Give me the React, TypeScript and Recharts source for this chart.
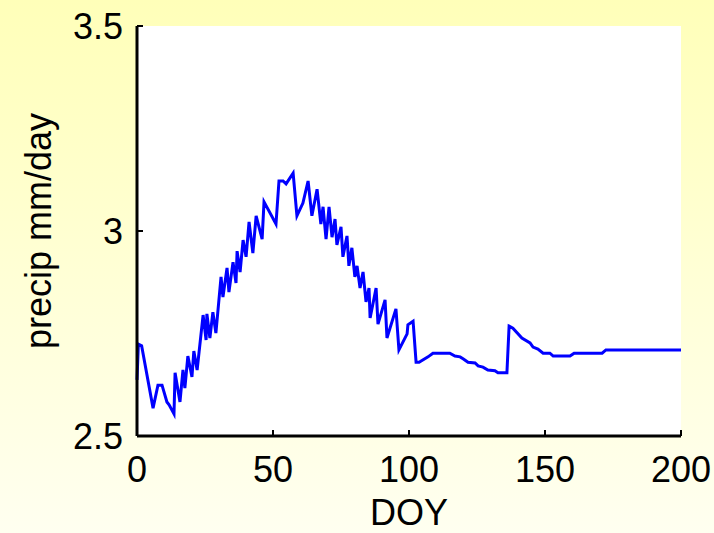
import React from 'react';
import { LineChart, Line, XAxis, YAxis, CartesianGrid } from 'recharts';

// values
const doy = [
  0, 0.5, 1.7, 5.9, 7.7, 9.2, 11, 11.8, 13.6, 14, 15.8, 16.9, 17.6, 18.7, 20.2, 20.9, 22.1,
  24.3, 25.4, 25.7, 26.8, 27.9, 29, 30.9, 31.6, 33.1, 33.8, 35.3, 36.4, 36.8, 37.9, 39, 40.1,
  41.2, 42.6, 43.8, 46, 46.7, 51.1, 52.2, 53.7, 54.8, 57.4, 58.8, 61, 62.9, 64.3, 66.2, 67.6,
  68.4, 69.5, 70.6, 71.7, 72.8, 73.5, 75, 75.7, 77.2, 77.9, 79, 80.1, 80.9, 82, 83.1, 84.2,
  85.3, 85.7, 87.9, 88.6, 91.2, 91.9, 95.2, 96.3, 99.3, 99.6, 101.5, 102.6, 103.7, 107, 108.8,
  115, 116.9, 118.8, 120, 121.7, 124.3, 125.4, 127.2, 129, 131.6, 132.7, 136, 136.8, 138.2,
  141.5, 144.5, 145.6, 147.4, 149.3, 151.8, 153, 159.2, 160.7, 171, 172.4, 200,
];
const precip = [
  2.637, 2.724, 2.72, 2.568, 2.624, 2.624, 2.583, 2.576, 2.554, 2.654, 2.583, 2.661, 2.617, 2.695, 2.644, 2.707, 2.661,
  2.795, 2.734, 2.798, 2.739, 2.802, 2.751, 2.888, 2.839, 2.91, 2.851, 2.924, 2.873, 2.951, 2.9, 2.978, 2.937,
  3.022, 2.946, 3.037, 2.98, 3.071, 3.017, 3.122, 3.122, 3.115, 3.141, 3.037, 3.068, 3.122, 3.037, 3.102, 3.017,
  3.059, 2.98, 3.059, 2.985, 3.029, 2.966, 3.01, 2.937, 2.988, 2.915, 2.959, 2.888, 2.915, 2.861, 2.9, 2.827,
  2.861, 2.788, 2.861, 2.773, 2.832, 2.739, 2.81, 2.71, 2.749, 2.771, 2.78, 2.68, 2.68, 2.693, 2.702,
  2.702, 2.695, 2.693, 2.688, 2.68, 2.678, 2.671, 2.668, 2.661, 2.659, 2.654, 2.654, 2.768, 2.763,
  2.739, 2.727, 2.717, 2.712, 2.702, 2.702, 2.695, 2.695, 2.702, 2.702, 2.71, 2.71,
];
const xTicks = [0, 50, 100, 150, 200];
const yTicks = [2.5, 3, 3.5];

const data = doy.map((d, i) => ({ doy: d, precip: precip[i] }));

const FONT = 'Liberation Sans, Arial, sans-serif';
const FS = 36;
const TICK_LEN = 6;
const X_MARGIN = 20;
const Y_MARGIN = 14;

// bottom ticks: label below, small tick mark pointing into the plot
const BottomTick = (props: any) => {
  const { x, y, payload } = props;
  const base = y - X_MARGIN;
  return (
    <g>
      <line x1={x} x2={x} y1={base} y2={base - TICK_LEN} stroke="#000" strokeWidth={2} />
      <text x={x} y={y} dy="0.72em" textAnchor="middle" fontSize={FS} fontFamily={FONT} fill="#000">
        {payload.value}
      </text>
    </g>
  );
};

const LeftTick = (props: any) => {
  const { x, y, payload } = props;
  const base = x + Y_MARGIN;
  return (
    <g>
      <line x1={base} x2={base + TICK_LEN} y1={y} y2={y} stroke="#000" strokeWidth={2} />
      <text x={x} y={y} dy="0.36em" textAnchor="end" fontSize={FS} fontFamily={FONT} fill="#000">
        {payload.value}
      </text>
    </g>
  );
};

const TopTick = (props: any) => {
  const { x, y } = props;
  return <line x1={x} x2={x} y1={y} y2={y + TICK_LEN} stroke="#000" strokeWidth={2} />;
};

const RightTick = (props: any) => {
  const { x, y } = props;
  return <line x1={x} x2={x - TICK_LEN} y1={y} y2={y} stroke="#000" strokeWidth={2} />;
};

export default function App() {
  return (
    <div
      style={{
        position: 'absolute',
        left: 0,
        top: 0,
        width: 714,
        height: 533,
        background: 'linear-gradient(to bottom, #ffffb9, #fffff0)',
      }}
    >
      <LineChart width={714} height={533} data={data} margin={{ top: 26, right: 33, bottom: 0, left: 0 }}>
        <CartesianGrid fill="#fff" horizontal={false} vertical={false} />
        <XAxis
          dataKey="doy"
          type="number"
          domain={[0, 200]}
          ticks={xTicks}
          height={97}
          tickSize={0}
          tickMargin={X_MARGIN}
          tickLine={false}
          tick={<BottomTick />}
          axisLine={{ stroke: '#000', strokeWidth: 3 }}
          label={{ value: 'DOY', position: 'insideBottom', offset: 8, fontSize: FS, fontFamily: FONT, fill: '#000' }}
        />
        <XAxis
          xAxisId="top"
          orientation="top"
          type="number"
          domain={[0, 200]}
          ticks={xTicks}
          height={0}
          tickSize={0}
          tickMargin={0}
          tickLine={false}
          tick={<TopTick />}
          axisLine={{ stroke: '#000', strokeWidth: 3 }}
        />
        <YAxis
          type="number"
          domain={[2.5, 3.5]}
          ticks={yTicks}
          width={137}
          tickSize={0}
          tickMargin={Y_MARGIN}
          tickLine={false}
          tick={<LeftTick />}
          axisLine={{ stroke: '#000', strokeWidth: 3 }}
          label={{
            value: 'precip mm/day',
            angle: -90,
            position: 'insideLeft',
            offset: 38,
            fontSize: FS,
            fontFamily: FONT,
            fill: '#000',
            style: { textAnchor: 'middle' },
          }}
        />
        <YAxis
          yAxisId="right"
          orientation="right"
          type="number"
          domain={[2.5, 3.5]}
          ticks={yTicks}
          width={0}
          tickSize={0}
          tickMargin={0}
          tickLine={false}
          tick={<RightTick />}
          axisLine={{ stroke: '#000', strokeWidth: 3 }}
        />
        <Line
          dataKey="precip"
          type="linear"
          stroke="#0000ff"
          strokeWidth={3}
          dot={false}
          isAnimationActive={false}
        />
      </LineChart>
    </div>
  );
}
